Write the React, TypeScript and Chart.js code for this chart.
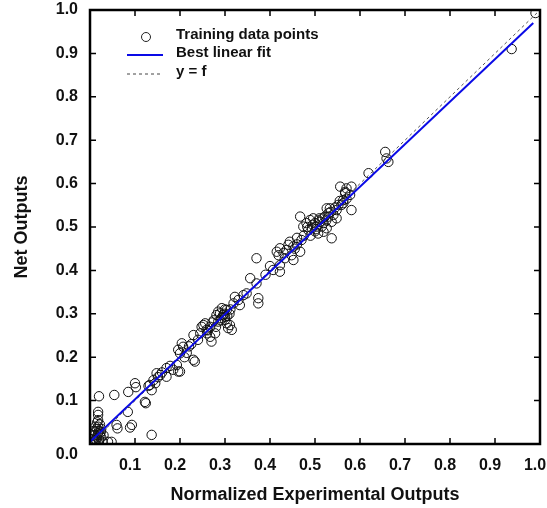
import React, { useEffect, useRef } from "react";
import { Chart, registerables } from "chart.js";

Chart.register(...registerables);

// Training data points: normalized experimental output (x) vs net output (y)
const expOutputs = [
  0.005, 0.008, 0.01, 0.012, 0.015, 0.018, 0.02, 0.022, 0.015, 0.01, 0.02, 0.025, 0.018, 0.012, 0.022, 0.016, 0.008, 0.025, 0.028, 0.006, 0.012, 0.02, 0.03, 0.014, 0.024,
  0.018, 0.018, 0.018, 0.02, 0.04, 0.048, 0.059, 0.061, 0.054, 0.085, 0.084, 0.093, 0.089, 0.1, 0.102, 0.122, 0.124, 0.13, 0.137, 0.137,
  0.133, 0.141, 0.148, 0.151, 0.156, 0.17, 0.17, 0.185, 0.196, 0.2, 0.193, 0.204, 0.196, 0.2, 0.207, 0.23, 0.233, 0.23,
  0.248, 0.252, 0.259, 0.267, 0.27, 0.281, 0.289, 0.293, 0.3, 0.304, 0.307, 0.285, 0.256, 0.267, 0.278, 0.285, 0.296, 0.304, 0.3,
  0.315, 0.311, 0.319, 0.322, 0.33, 0.341, 0.348, 0.333, 0.356, 0.37, 0.374, 0.374, 0.37,
  0.407, 0.422, 0.422, 0.419, 0.433, 0.415, 0.422, 0.437, 0.441, 0.444, 0.452, 0.448, 0.452, 0.467,
  0.467, 0.474, 0.481, 0.489, 0.496, 0.5, 0.493, 0.504, 0.511, 0.515, 0.519, 0.507, 0.485, 0.522, 0.53, 0.537,
  0.548, 0.559, 0.567, 0.563, 0.526, 0.533, 0.53, 0.541, 0.537, 0.519, 0.526, 0.548, 0.552, 0.556, 0.567, 0.57, 0.581, 0.578, 0.581, 0.563,
  0.619, 0.656, 0.659, 0.663, 0.937, 0.99,
  0.215, 0.22, 0.24, 0.26, 0.275, 0.29, 0.31, 0.3, 0.39, 0.4, 0.46, 0.47, 0.49, 0.5, 0.51,
  0.21, 0.225, 0.245, 0.262, 0.272, 0.28, 0.292, 0.298, 0.305, 0.312, 0.178, 0.16, 0.145,
  0.475, 0.483, 0.495, 0.502, 0.508, 0.517, 0.525, 0.535, 0.545, 0.555, 0.57, 0.43, 0.455, 0.46,
];
const netOutputs = [
  0.005, 0.012, 0.02, 0.028, 0.035, 0.04, 0.03, 0.022, 0.015, 0.008, 0.01, 0.015, 0.025, 0.04, 0.045, 0.05, 0.03, 0.035, 0.005, 0.02, 0.0, 0.0, 0.02, 0.01, 0.028,
  0.055, 0.067, 0.074, 0.11, 0.005, 0.005, 0.044, 0.036, 0.113, 0.12, 0.074, 0.044, 0.038, 0.14, 0.131, 0.097, 0.094, 0.134, 0.124, 0.021,
  0.136, 0.147, 0.163, 0.154, 0.159, 0.155, 0.175, 0.171, 0.167, 0.167, 0.182, 0.232, 0.217, 0.209, 0.224, 0.194, 0.19, 0.251,
  0.27, 0.274, 0.263, 0.247, 0.236, 0.297, 0.301, 0.313, 0.293, 0.278, 0.267, 0.282, 0.278, 0.27, 0.255, 0.305, 0.297, 0.309, 0.286,
  0.263, 0.274, 0.324, 0.339, 0.332, 0.343, 0.347, 0.32, 0.382, 0.37, 0.336, 0.324, 0.428,
  0.401, 0.397, 0.412, 0.435, 0.428, 0.443, 0.451, 0.447, 0.459, 0.466, 0.455, 0.435, 0.424, 0.443,
  0.524, 0.501, 0.509, 0.516, 0.52, 0.509, 0.497, 0.501, 0.512, 0.501, 0.489, 0.485, 0.493, 0.524, 0.532, 0.474,
  0.539, 0.551, 0.581, 0.562, 0.543, 0.543, 0.524, 0.528, 0.512, 0.509, 0.497, 0.52, 0.551, 0.593, 0.578, 0.589, 0.593, 0.574, 0.539, 0.555,
  0.624, 0.673, 0.658, 0.65, 0.91, 0.993,
  0.21, 0.225, 0.24, 0.255, 0.285, 0.285, 0.3, 0.31, 0.39, 0.41, 0.46, 0.47, 0.48, 0.49, 0.52,
  0.2, 0.23, 0.255, 0.262, 0.28, 0.27, 0.29, 0.3, 0.295, 0.31, 0.18, 0.165, 0.14,
  0.48, 0.5, 0.505, 0.495, 0.515, 0.52, 0.515, 0.535, 0.545, 0.56, 0.565, 0.44, 0.45, 0.475,
];

// Best linear fit endpoints and identity line y = f
const fitX = [0, 0.985];
const fitY = [0.005, 0.97];
const identX = [0, 1];
const identY = [0, 1];

const tickValues = [0, 0.1, 0.2, 0.3, 0.4, 0.5, 0.6, 0.7, 0.8, 0.9, 1.0];

const legendLabels = ["Training data points", "Best linear fit", "y = f"];
const xTitle = "Normalized Experimental Outputs";
const yTitle = "Net Outputs";

const FONT = "'Liberation Sans', Arial, sans-serif";
const BLUE = "#0a0ae6";

const framePlugin = {
  id: "frameTicks",
  afterDraw(chart: any) {
    const { ctx, chartArea } = chart;
    const { left, right, top, bottom } = chartArea;
    const xs = chart.scales.x;
    const ys = chart.scales.y;
    ctx.save();
    ctx.strokeStyle = "#000";
    ctx.lineWidth = 1.5;
    const tl = 6;
    tickValues.forEach((v) => {
      const px = xs.getPixelForValue(v);
      const py = ys.getPixelForValue(v);
      ctx.beginPath();
      ctx.moveTo(px, bottom);
      ctx.lineTo(px, bottom - tl);
      ctx.moveTo(px, top);
      ctx.lineTo(px, top + tl);
      ctx.moveTo(left, py);
      ctx.lineTo(left + tl, py);
      ctx.moveTo(right, py);
      ctx.lineTo(right - tl, py);
      ctx.stroke();
    });
    ctx.lineWidth = 2.5;
    ctx.strokeRect(left, top, right - left, bottom - top);

    // y-axis "0.0" label (sits below the corner in the reference)
    ctx.fillStyle = "#111";
    ctx.font = `bold 16px ${FONT}`;
    ctx.textAlign = "right";
    ctx.textBaseline = "middle";
    ctx.fillText("0.0", left - 12, ys.getPixelForValue(0) + 11);

    // legend
    const lx = left + 37;
    const tx = left + 86;
    ctx.font = `bold 15px ${FONT}`;
    ctx.textAlign = "left";
    ctx.fillText(legendLabels[0], tx, top + 25);
    ctx.fillText(legendLabels[1], tx, top + 43);
    ctx.fillText(legendLabels[2], tx, top + 62);
    ctx.lineWidth = 1;
    ctx.strokeStyle = "#222";
    ctx.beginPath();
    ctx.arc(left + 56, top + 27, 4.5, 0, Math.PI * 2);
    ctx.stroke();
    ctx.strokeStyle = BLUE;
    ctx.lineWidth = 2;
    ctx.beginPath();
    ctx.moveTo(lx, top + 45);
    ctx.lineTo(lx + 36, top + 45);
    ctx.stroke();
    ctx.strokeStyle = "#444";
    ctx.lineWidth = 1;
    ctx.setLineDash([3, 3]);
    ctx.beginPath();
    ctx.moveTo(lx, top + 64);
    ctx.lineTo(lx + 36, top + 64);
    ctx.stroke();
    ctx.restore();
  },
};

export default function App() {
  const ref = useRef<HTMLCanvasElement | null>(null);
  useEffect(() => {
    if (!ref.current) return;
    const points = expOutputs.map((x, i) => ({ x, y: netOutputs[i] }));
    const fit = fitX.map((x, i) => ({ x, y: fitY[i] }));
    const ident = identX.map((x, i) => ({ x, y: identY[i] }));
    const chart = new Chart(ref.current, {
      type: "scatter",
      data: {
        datasets: [
          {
            label: legendLabels[1],
            data: fit,
            showLine: true,
            borderColor: BLUE,
            borderWidth: 2,
            pointRadius: 0,
            order: 1,
          },
          {
            label: legendLabels[2],
            data: ident,
            showLine: true,
            borderColor: "#555",
            borderWidth: 1,
            borderDash: [3, 3],
            pointRadius: 0,
            order: 2,
          },
          {
            label: legendLabels[0],
            data: points,
            pointStyle: "circle",
            pointRadius: 4.7,
            borderColor: "#111",
            borderWidth: 1,
            backgroundColor: "rgba(0,0,0,0)",
            order: 3,
          },
        ],
      },
      options: {
        responsive: false,
        animation: false,
        layout: { padding: { left: 0, top: 10, right: 7, bottom: 0 } },
        plugins: { legend: { display: false }, tooltip: { enabled: false } },
        scales: {
          x: {
            type: "linear",
            min: 0,
            max: 1,
            grid: { display: false, drawTicks: false },
            border: { display: false },
            ticks: {
              stepSize: 0.1,
              padding: 12,
              labelOffset: -5,
              color: "#111",
              font: { family: FONT, size: 16, weight: "bold" },
              callback: (v: any) => (Number(v) === 0 ? "" : Number(v).toFixed(1)),
            },
            title: {
              display: true,
              text: xTitle,
              color: "#111",
              font: { family: FONT, size: 18, weight: "bold" },
              padding: { top: 0, bottom: 2 },
            },
            afterFit: (s: any) => {
              s.height = 64;
              s.paddingLeft = 0;
              s.paddingRight = 0;
            },
          },
          y: {
            type: "linear",
            min: 0,
            max: 1,
            grid: { display: false, drawTicks: false },
            border: { display: false },
            ticks: {
              stepSize: 0.1,
              padding: 12,
              color: "#111",
              font: { family: FONT, size: 16, weight: "bold" },
              callback: (v: any) => (Number(v) === 0 ? "" : Number(v).toFixed(1)),
            },
            title: {
              display: true,
              text: yTitle,
              color: "#111",
              font: { family: FONT, size: 18, weight: "bold" },
              padding: { top: 11, bottom: 0 },
            },
            afterFit: (s: any) => {
              s.width = 90;
              s.paddingTop = 0;
              s.paddingBottom = 0;
            },
          },
        },
      },
      plugins: [framePlugin],
    });
    return () => chart.destroy();
  }, []);
  return (
    <div style={{ position: "absolute", left: 0, top: 0, width: 547, height: 508, background: "#fff" }}>
      <canvas ref={ref} width={547} height={508} style={{ display: "block" }} />
    </div>
  );
}
